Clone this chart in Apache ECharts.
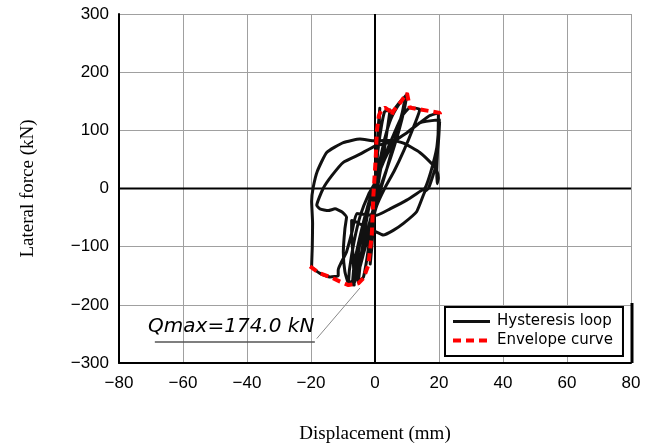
<!DOCTYPE html>
<html>
<head>
<meta charset="utf-8">
<script src="https://cdn.jsdelivr.net/npm/echarts@6/dist/echarts.min.js"></script>
<style>
  html, body { margin: 0; padding: 0; background: #fff; }
  #chart { width: 653px; height: 446px; }
</style>
</head>
<body>
<div id="chart"></div>
<script>
// axis ranges (mm / kN)
const xRange = [-80, 80, 20];
const yRange = [-300, 300, 100];

const hysteresis = [
  // small cycles
  [0, 0], [0.5, 55], [1.0, 105], [1.5, 138], [1.3, 110], [0.8, 60], [0.2, 10], [-0.3, -40], [-0.9, -95],
  [-1.5, -130], [-1.3, -100], [-0.8, -50], [-0.2, 0],
  [0.6, 50], [1.8, 100], [3.0, 132], [4.7, 135], [4.2, 115], [3.0, 70], [1.5, 25], [0.2, -20], [-1.2, -70],
  [-2.5, -120], [-3.6, -152], [-5.2, -161], [-4.6, -130], [-3.4, -80], [-2.0, -35], [-0.5, 0],
  [1.2, 40], [3, 85], [5, 120], [7.5, 145], [10, 162], [9.3, 140], [7.5, 100], [5, 55], [2.5, 15], [0, -25],
  [-2.5, -75], [-5, -125], [-7, -158], [-8.3, -164], [-8, -140], [-6.5, -90], [-4.5, -45], [-2, -10], [0.5, 15],
  [2, 60], [4, 105], [6, 135], [8, 150], [9.5, 158], [8.5, 130], [6, 80], [3.5, 30], [1, -15], [-1.5, -60],
  [-3.5, -110], [-5.5, -150], [-6.5, -162], [-5.8, -130], [-4.2, -80], [-2.5, -35], [-0.5, 0],
  [3, 55], [6, 95], [8.5, 125], [10.9, 139], [14, 136], [12, 105], [9, 65], [6, 30], [3, 0], [0.5, -30],
  [-1.5, -70], [-3.5, -110], [-5.5, -145], [-7, -160], [-6.5, -130], [-5, -90], [-3, -45], [-1, -10], [0.5, 15],
  // first +-20 mm cycle
  [3, 50], [6, 80], [10, 96], [14, 113], [17, 125], [19.8, 130], [19.8, 120], [19.6, 70], [19.3, 30], [19.4, 8],
  [19.8, 18], [19.3, 31], [18.2, 40], [14, 62], [8.9, 78], [5, 83], [0, 82], [-4.7, 85], [-9.9, 79], [-15.1, 62],
  [-18, 30], [-19.3, 2], [-19.8, -22], [-19.5, -60], [-19.6, -100], [-19.8, -134], [-17.2, -146], [-14, -152],
  [-11.5, -150], [-11.5, -140], [-8.9, -109], [-7.2, -75], [-5.7, -43], [-2.5, -45], [0.5, -46], [4.7, -35],
  [9.9, -20], [14.6, -3], [15.6, 0], [17.5, 30], [19.3, 70], [20.1, 118],
  // second +-20 mm cycle
  [14, 113], [10, 96], [5, 80], [0, 73], [-4.7, 59], [-9.9, 45], [-13.5, 22], [-16.2, 0], [-18.2, -29],
  [-17.2, -35], [-14.6, -38], [-12.5, -35], [-10.4, -40], [-8.9, -49], [-9.4, -69], [-9.9, -109], [-9.4, -143],
  [-8.3, -163], [-6.5, -166], [-6.8, -120], [-7.3, -80], [-7.3, -55], [-5.7, -58], [-3, -66], [0.5, -75],
  [2.6, -80], [5.7, -72], [8.9, -60], [13, -40], [15.6, -5], [16.7, 0], [18.75, 34], [19.8, 79], [20.2, 115]
];

const envelope = [
  [-20.3, -134], [-17.2, -146], [-14, -152], [-10.9, -160], [-8.3, -166], [-5.2, -163], [-3.6, -154],
  [-2.1, -132], [-1, -80], [-0.5, -12], [0.2, 50], [0.6, 100], [1.2, 125], [2.1, 136], [3.1, 139],
  [4.7, 133], [5.2, 125], [5.7, 133], [7.8, 147], [10, 164], [10.9, 139], [14, 136], [17.2, 133],
  [20.3, 130], [20.3, 119]
];

// annotation
const qmaxLabel = 'Qmax=174.0 kN';
const qmaxTextAt = [-70.9, -237.6];
const qmaxUnderline = [[-68.8, -264], [-18.8, -264]];
const qmaxLeader = [[-18.2, -258], [-4.7, -171]];

const minus = v => String(v).replace('-', '\u2212');

const chart = echarts.init(document.getElementById('chart'));

const option = {
  animation: false,
  grid: { left: 119, right: 22, top: 14, bottom: 83, containLabel: false, outerBoundsMode: 'none' },
  legend: {
    data: ['Hysteresis loop', 'Envelope curve'],
    orient: 'vertical',
    left: 445,
    top: 307,
    width: 178,
    itemWidth: 37,
    itemHeight: 14,
    itemGap: 4,
    padding: [7, 10, 8, 6],
    borderColor: '#000',
    borderWidth: 2,
    backgroundColor: '#fff',
    itemStyle: { opacity: 0 },
    lineStyle: { width: 'inherit' },
    textStyle: { fontFamily: 'DejaVu Sans', fontSize: 15, color: '#000', padding: [0, 0, 0, 2] }
  },
  xAxis: {
    type: 'value',
    min: xRange[0], max: xRange[1], interval: xRange[2],
    name: 'Displacement (mm)',
    nameLocation: 'middle',
    nameGap: 62,
    nameTextStyle: { fontFamily: 'Liberation Serif', fontSize: 19, color: '#000' },
    axisLine: { onZero: false, lineStyle: { color: '#000', width: 2 } },
    axisTick: { show: false },
    axisLabel: { formatter: minus, fontFamily: 'Liberation Sans', fontSize: 17, color: '#000', margin: 12 },
    splitLine: { lineStyle: { color: '#a0a0a0', width: 1 } }
  },
  yAxis: {
    type: 'value',
    min: yRange[0], max: yRange[1], interval: yRange[2],
    name: 'Lateral force (kN)',
    nameLocation: 'middle',
    nameGap: 81,
    nameTextStyle: { fontFamily: 'Liberation Serif', fontSize: 19, color: '#000' },
    axisLine: { onZero: false, lineStyle: { color: '#000', width: 2 } },
    axisTick: { show: false },
    axisLabel: { formatter: minus, fontFamily: 'Liberation Sans', fontSize: 17, color: '#000', margin: 10 },
    splitLine: { lineStyle: { color: '#a0a0a0', width: 1 } }
  },
  series: [
    {
      name: 'zeroX', type: 'line', silent: true, symbol: 'none', z: 1,
      data: [[xRange[0], 0], [xRange[1], 0]],
      lineStyle: { color: '#000', width: 2 }
    },
    {
      name: 'zeroY', type: 'line', silent: true, symbol: 'none', z: 1,
      data: [[0, yRange[0]], [0, yRange[1]]],
      lineStyle: { color: '#000', width: 2 }
    },
    {
      name: 'Hysteresis loop', type: 'line', symbol: 'none', z: 3,
      smooth: 0.15,
      data: hysteresis,
      lineStyle: { color: '#111', width: 3, join: 'round' },
      itemStyle: { color: '#111' }
    },
    {
      name: 'Envelope curve', type: 'line', symbol: 'none', z: 4,
      data: envelope,
      lineStyle: { color: '#ff0000', width: 4, type: [8, 5] },
      itemStyle: { color: '#ff0000' }
    },
    {
      name: 'underline', type: 'line', silent: true, symbol: 'none', z: 2,
      data: qmaxUnderline,
      lineStyle: { color: '#555', width: 1.5 }
    },
    {
      name: 'leader', type: 'line', silent: true, symbol: 'none', z: 2,
      data: qmaxLeader,
      lineStyle: { color: '#888', width: 1 }
    }
  ]
};

chart.setOption(option);

const pt = chart.convertToPixel({ gridIndex: 0 }, qmaxTextAt);
chart.setOption({
  graphic: [
    {
      type: 'text',
      x: pt[0], y: pt[1],
      z: 10,
      style: {
        text: qmaxLabel,
        font: 'italic 20px "DejaVu Sans"',
        fill: '#000',
        align: 'left',
        verticalAlign: 'middle'
      }
    },
    {
      // drop shadow strip on the right of the legend box
      type: 'line',
      z: 20,
      shape: { x1: 632, y1: 303, x2: 632, y2: 363 },
      style: { stroke: '#000', lineWidth: 3 }
    }
  ]
});
</script>
</body>
</html>
